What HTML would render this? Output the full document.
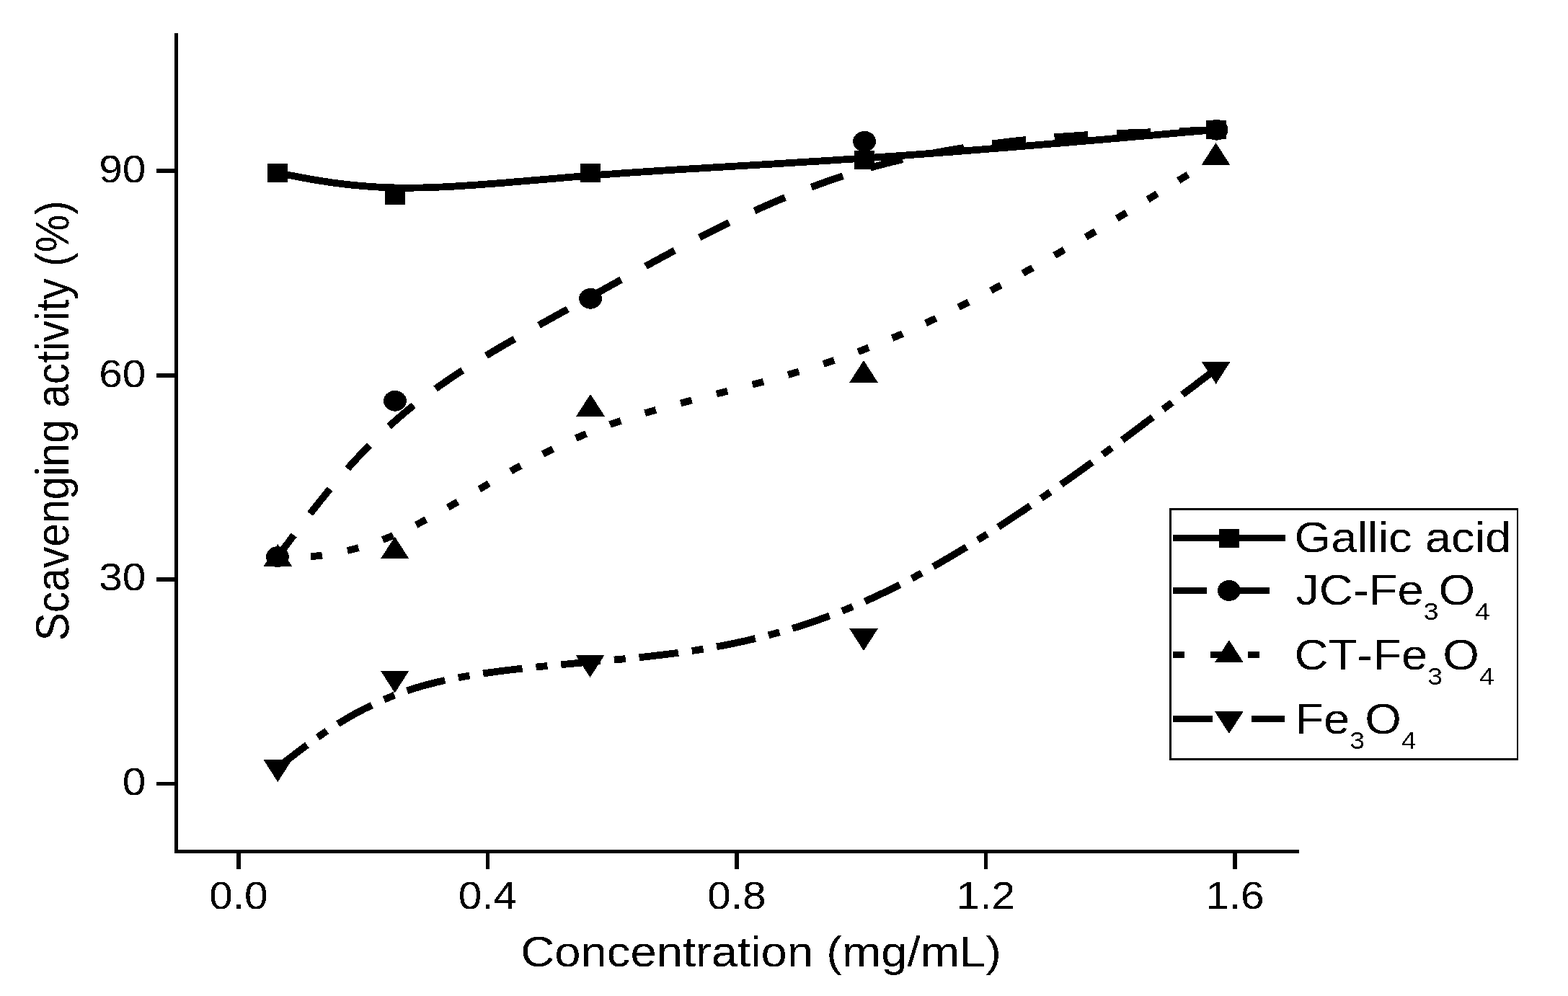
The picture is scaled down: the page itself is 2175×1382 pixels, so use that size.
<!DOCTYPE html>
<html lang="en"><head><meta charset="utf-8"><title>Scavenging activity vs concentration</title>
<style>html,body{margin:0;padding:0;background:#fff;}body{width:2175px;height:1382px;overflow:hidden;}svg{display:block;}text{font-family:'Liberation Sans', sans-serif;fill:#000;font-kerning:none;}</style></head><body>
<svg width="2175" height="1382" viewBox="0 0 2175 1382" role="img" aria-label="Scavenging activity versus concentration">
<defs><filter id="bin" x="0" y="0" width="2175" height="1382" filterUnits="userSpaceOnUse" color-interpolation-filters="sRGB"><feComponentTransfer><feFuncA type="discrete" tableValues="0 1"/></feComponentTransfer></filter></defs>
<rect width="2175" height="1382" fill="#fff"/>
<g fill="#000" shape-rendering="crispEdges">
<rect x="242" y="46" width="5" height="1138"/>
<rect x="242" y="1179" width="1560" height="5"/>
<rect x="217" y="234.0" width="27" height="6.0"/>
<rect x="217" y="518.0" width="27" height="5.5"/>
<rect x="217" y="801.0" width="27" height="5.5"/>
<rect x="217" y="1085.0" width="27" height="5.0"/>
<rect x="328.1" y="1182" width="5.8" height="24"/>
<rect x="673.6" y="1182" width="5.8" height="24"/>
<rect x="1019.0" y="1182" width="5.8" height="24"/>
<rect x="1364.5" y="1182" width="5.8" height="24"/>
<rect x="1710.0" y="1182" width="5.8" height="24"/>
</g>
<g filter="url(#bin)">
<text transform="translate(202.4 252.7) scale(1.074 1)" font-size="54.5" text-anchor="end">90</text>
<text transform="translate(202.4 536.5) scale(1.074 1)" font-size="54.5" text-anchor="end">60</text>
<text transform="translate(202.4 819.4) scale(1.074 1)" font-size="54.5" text-anchor="end">30</text>
<text transform="translate(202.4 1103.2) scale(1.074 1)" font-size="54.5" text-anchor="end">0</text>
<text transform="translate(330.9 1260.9) scale(1.074 1)" font-size="54.5" text-anchor="middle">0.0</text>
<text transform="translate(676.4 1260.9) scale(1.074 1)" font-size="54.5" text-anchor="middle">0.4</text>
<text transform="translate(1021.8 1260.9) scale(1.074 1)" font-size="54.5" text-anchor="middle">0.8</text>
<text transform="translate(1367.3 1260.9) scale(1.074 1)" font-size="54.5" text-anchor="middle">1.2</text>
<text transform="translate(1712.8 1260.9) scale(1.074 1)" font-size="54.5" text-anchor="middle">1.6</text>
<text transform="translate(722.2 1341.2) scale(1.109 1)" font-size="58.8" text-anchor="start">Concentration (mg/mL)</text>
<text transform="translate(95.3 889.4) rotate(-90) scale(1 1.109)" font-size="58.8">Scavenging activity (%)</text>
</g>
<g fill="none" stroke="#000" stroke-width="9.8" stroke-linecap="butt" stroke-linejoin="round" shape-rendering="crispEdges">
<path d="M385.0,240.0 L385.0,240.0 L385.0,240.0 L385.0,240.0 L385.1,240.0 L385.2,240.0 L385.4,240.1 L385.6,240.1 L385.9,240.2 L386.3,240.2 L386.7,240.3 L387.3,240.4 L388.0,240.6 L388.8,240.7 L389.8,240.9 L390.9,241.1 L392.1,241.4 L393.5,241.6 L395.1,241.9 L396.9,242.3 L398.9,242.6 L401.1,243.1 L403.5,243.5 L406.2,244.0 L409.0,244.6 L412.2,245.2 L415.6,245.8 L419.2,246.5 L423.1,247.2 L427.3,248.0 L431.7,248.8 L436.3,249.6 L441.2,250.4 L446.3,251.2 L451.6,252.0 L457.2,252.9 L463.0,253.7 L469.1,254.5 L475.3,255.2 L481.8,256.0 L488.4,256.7 L495.3,257.4 L502.4,258.0 L509.7,258.6 L517.2,259.1 L524.9,259.6 L532.7,259.9 L540.8,260.2 L549.0,260.5 L557.4,260.6 L566.0,260.7 L574.8,260.6 L583.7,260.5 L592.9,260.2 L602.2,259.9 L611.6,259.5 L621.3,259.1 L631.1,258.5 L641.0,257.9 L651.2,257.2 L661.5,256.5 L672.0,255.7 L682.7,254.9 L693.6,254.1 L704.6,253.2 L715.8,252.2 L727.2,251.3 L738.7,250.3 L750.4,249.3 L762.3,248.3 L774.4,247.3 L786.6,246.2 L799.0,245.2 L811.6,244.2 L824.4,243.2 L837.3,242.2 L850.4,241.3 L863.7,240.3 L877.1,239.4 L890.8,238.5 L904.6,237.6 L918.5,236.7 L932.7,235.8 L947.0,234.9 L961.5,234.1 L976.2,233.2 L991.0,232.3 L1006.0,231.4 L1021.2,230.5 L1036.6,229.6 L1052.1,228.7 L1067.8,227.8 L1083.7,226.8 L1099.8,225.8 L1116.0,224.8 L1132.4,223.8 L1149.0,222.8 L1165.7,221.7 L1182.7,220.6 L1199.8,219.4 L1217.0,218.2 L1234.5,217.0 L1252.0,215.8 L1269.7,214.5 L1287.4,213.2 L1305.2,211.8 L1322.9,210.5 L1340.6,209.1 L1358.2,207.7 L1375.6,206.3 L1392.9,205.0 L1410.0,203.6 L1426.8,202.2 L1443.3,200.8 L1459.5,199.5 L1475.4,198.2 L1490.8,196.9 L1505.9,195.6 L1520.4,194.4 L1534.4,193.2 L1547.9,192.0 L1560.8,190.9 L1573.0,189.8 L1584.6,188.8 L1595.5,187.9 L1605.7,187.0 L1615.0,186.2 L1623.7,185.4 L1631.6,184.7 L1638.8,184.1 L1645.4,183.5 L1651.3,183.0 L1656.6,182.5 L1661.4,182.1 L1665.7,181.8 L1669.4,181.4 L1672.7,181.1 L1675.6,180.9 L1678.0,180.7 L1680.1,180.5 L1681.8,180.4 L1683.2,180.2 L1684.3,180.1 L1685.2,180.1 L1685.9,180.0 L1686.3,180.0 L1686.7,179.9 L1686.9,179.9 L1687.0,179.9 L1687.0,179.9 L1687.0,179.9 L1687.0,179.9"/>
<path d="M384.9,772.7 L387.0,770.0 L389.0,767.2 L391.1,764.5 L393.2,761.7 L395.2,759.0 L397.3,756.2 L399.4,753.5 L401.5,750.7 L403.5,748.0 L405.6,745.2 L407.7,742.5 M430.2,712.9 L432.4,710.0 L434.7,707.1 L436.9,704.2 L439.2,701.3 L441.5,698.5 L443.8,695.6 L446.0,692.7 L448.4,689.9 L450.7,687.0 L453.0,684.2 L455.3,681.4 L457.7,678.5 M482.1,650.2 L484.6,647.5 L487.0,644.7 L489.5,642.0 L492.0,639.3 L494.5,636.6 L497.1,633.9 L499.6,631.2 L502.1,628.5 L504.7,625.8 L507.3,623.2 L509.9,620.5 L512.5,617.9 M539.7,591.7 L542.4,589.1 L545.2,586.6 L548.0,584.2 L550.8,581.7 L553.6,579.2 L556.4,576.8 L559.2,574.4 L562.1,571.9 L565.0,569.5 L567.9,567.2 L570.8,564.8 L573.7,562.4 M604.2,539.4 L607.3,537.2 L610.3,535.0 L613.4,532.9 L616.5,530.7 L619.7,528.6 L622.8,526.4 L625.9,524.3 L629.1,522.2 L632.2,520.1 L635.4,518.0 L638.5,515.9 L641.7,513.9 M674.4,493.4 L677.7,491.5 L680.9,489.5 L684.2,487.6 L687.5,485.6 L690.7,483.7 L694.0,481.7 L697.3,479.8 L700.6,477.9 L703.9,476.0 L707.2,474.1 L710.5,472.2 L713.8,470.3 M747.5,451.2 L750.8,449.3 L754.2,447.5 L757.5,445.6 L760.8,443.8 L764.2,441.9 L767.5,440.1 L770.8,438.2 L774.2,436.4 L777.5,434.5 L780.9,432.7 L784.2,430.9 L787.5,429.0 M821.5,410.3 L824.9,408.5 L828.2,406.6 L831.5,404.8 L834.9,402.9 L838.2,401.1 L841.6,399.3 L844.9,397.4 L848.2,395.6 L851.6,393.7 L854.9,391.9 L858.2,390.0 L861.6,388.2 M895.5,369.4 L898.9,367.6 L902.2,365.8 L905.6,363.9 L908.9,362.1 L912.3,360.3 L915.6,358.4 L919.0,356.6 L922.3,354.8 L925.7,353.0 L929.1,351.2 L932.4,349.4 L935.8,347.6 M970.2,329.6 L973.6,327.8 L977.0,326.1 L980.4,324.3 L983.9,322.6 L987.3,320.9 L990.7,319.2 L994.1,317.5 L997.6,315.8 L1001.0,314.1 L1004.4,312.4 L1007.9,310.7 L1011.3,309.0 M1046.6,292.5 L1050.1,290.9 L1053.6,289.3 L1057.2,287.7 L1060.7,286.2 L1064.2,284.6 L1067.7,283.1 L1071.2,281.6 L1074.8,280.0 L1078.3,278.5 L1081.9,277.0 L1085.4,275.5 L1089.0,274.1 M1125.4,259.7 L1129.0,258.3 L1132.7,257.0 L1136.3,255.6 L1139.9,254.3 L1143.6,253.0 L1147.2,251.7 L1150.9,250.5 L1154.5,249.2 L1158.2,247.9 L1161.9,246.7 L1165.5,245.5 L1169.2,244.3 M1206.9,232.8 L1210.7,231.7 L1214.4,230.7 L1218.2,229.7 L1221.9,228.7 L1225.7,227.7 L1229.4,226.7 L1233.2,225.8 L1237.0,224.8 L1240.8,223.9 L1244.6,223.0 L1248.3,222.1 L1252.1,221.2 M1290.9,213.0 L1294.7,212.3 L1298.5,211.6 L1302.4,210.9 L1306.2,210.2 L1310.1,209.5 L1313.9,208.8 L1317.8,208.2 L1321.6,207.5 L1325.5,206.9 L1329.3,206.2 L1333.2,205.6 L1337.0,205.0 M1376.3,199.4 L1380.2,198.9 L1384.1,198.4 L1388.0,197.9 L1391.9,197.5 L1395.7,197.0 L1399.6,196.5 L1403.5,196.1 L1407.4,195.7 L1411.3,195.2 L1415.2,194.8 L1419.1,194.4 L1423.0,194.0 M1462.5,190.4 L1466.4,190.1 L1470.4,189.8 L1474.3,189.5 L1478.2,189.2 L1482.1,188.9 L1486.0,188.6 L1489.9,188.4 L1493.8,188.1 L1497.7,187.8 L1501.6,187.6 L1505.5,187.3 L1509.4,187.1 M1549.1,185.0 L1553.0,184.9 L1557.0,184.7 L1560.9,184.5 L1564.8,184.4 L1568.7,184.2 L1572.6,184.1 L1576.5,183.9 L1580.4,183.8 L1584.4,183.6 L1588.3,183.5 L1592.2,183.4 L1596.1,183.2 M1635.9,181.9 L1639.8,181.8 L1643.7,181.6 L1647.6,181.5 L1651.5,181.4 L1655.4,181.3 L1659.4,181.1 L1663.3,181.0 L1667.2,180.9 L1671.1,180.7 L1675.0,180.6 L1678.9,180.5 L1682.8,180.4"/>
<path d="M385.4,775.5 L388.7,775.3 L392.0,775.1 L395.4,774.9 M431.0,772.4 L434.2,772.1 L437.4,771.7 L440.5,771.3 L443.7,771.0 L446.9,770.5 M481.9,764.0 L485.0,763.3 L488.1,762.5 L491.1,761.7 L494.2,760.9 L497.3,760.0 M530.8,748.9 L533.7,747.8 L536.7,746.7 L539.6,745.5 L542.5,744.3 L545.4,743.1 M577.2,728.3 L580.0,726.8 L582.7,725.4 L585.5,724.0 L588.3,722.5 L591.0,721.0 M621.4,704.1 L624.1,702.5 L626.8,700.9 L629.5,699.4 L632.2,697.8 L634.9,696.3 M664.9,678.8 L667.6,677.2 L670.3,675.6 L672.9,674.1 L675.6,672.5 L678.3,670.9 M708.6,653.7 L711.3,652.2 L714.0,650.7 L716.7,649.2 L719.5,647.7 L722.2,646.2 M753.1,629.9 L755.8,628.5 L758.6,627.1 L761.4,625.7 L764.2,624.3 L767.0,622.9 M798.8,608.1 L801.7,606.8 L804.6,605.6 L807.4,604.3 L810.3,603.1 L813.2,601.9 M846.1,589.1 L849.0,588.0 L852.0,587.0 L855.0,586.0 L858.0,584.9 L861.0,583.9 M894.7,573.2 L897.8,572.3 L900.8,571.5 L903.8,570.6 L906.9,569.7 L909.9,568.8 M944.2,559.5 L947.2,558.7 L950.3,557.9 L953.4,557.0 L956.4,556.2 L959.5,555.4 M993.9,546.6 L997.0,545.8 L1000.1,545.1 L1003.1,544.3 L1006.2,543.5 L1009.3,542.7 M1043.6,533.7 L1046.7,532.9 L1049.8,532.1 L1052.8,531.3 L1055.9,530.5 L1059.0,529.6 M1093.1,520.0 L1096.2,519.1 L1099.2,518.2 L1102.2,517.3 L1105.3,516.4 L1108.3,515.5 M1142.1,504.9 L1145.1,503.9 L1148.1,502.9 L1151.1,501.9 L1154.1,500.9 L1157.1,499.9 M1190.3,488.0 L1193.3,486.9 L1196.2,485.8 L1199.2,484.7 L1202.1,483.5 L1205.0,482.4 M1237.6,469.1 L1240.5,467.9 L1243.4,466.7 L1246.3,465.4 L1249.2,464.2 L1252.0,462.9 M1284.0,448.4 L1286.8,447.1 L1289.7,445.8 L1292.5,444.4 L1295.3,443.1 L1298.2,441.7 M1329.6,426.3 L1332.4,424.9 L1335.2,423.5 L1337.9,422.1 L1340.7,420.7 L1343.5,419.3 M1374.5,403.2 L1377.2,401.7 L1380.0,400.2 L1382.8,398.8 L1385.5,397.3 L1388.3,395.8 M1418.8,379.1 L1421.6,377.6 L1424.3,376.1 L1427.0,374.6 L1429.7,373.1 L1432.5,371.5 M1462.7,354.4 L1465.4,352.8 L1468.1,351.3 L1470.8,349.7 L1473.5,348.1 L1476.2,346.6 M1506.1,329.0 L1508.8,327.4 L1511.5,325.8 L1514.2,324.2 L1516.8,322.6 L1519.5,321.1 M1549.2,303.1 L1551.9,301.5 L1554.5,299.9 L1557.2,298.3 L1559.8,296.7 L1562.5,295.1 M1592.0,276.9 L1594.7,275.3 L1597.3,273.6 L1599.9,272.0 L1602.6,270.4 L1605.2,268.8 M1634.7,250.5 L1637.3,248.9 L1640.0,247.3 L1642.6,245.6 L1645.3,244.0 L1647.9,242.4 M1677.4,224.1 L1680.4,222.3 L1683.5,220.4 L1686.5,218.5"/>
<path d="M385.3,1064.5 L388.2,1062.3 L391.1,1060.1 L394.0,1057.9 L396.9,1055.7 L399.8,1053.5 L402.7,1051.3 L405.6,1049.1 L408.5,1046.9 L411.3,1044.7 L414.2,1042.5 L417.1,1040.3 L420.0,1038.1 L422.9,1035.9 L425.9,1033.7 M440.7,1023.0 L443.2,1021.3 L445.7,1019.5 L448.3,1017.7 L450.9,1016.0 L453.4,1014.3 M468.8,1004.4 L472.0,1002.4 L475.3,1000.4 L478.6,998.4 L481.9,996.5 L485.2,994.6 L488.5,992.7 L491.8,990.8 L495.2,989.0 L498.6,987.2 L501.9,985.4 L505.3,983.6 L508.8,981.9 L512.2,980.2 L515.7,978.5 M532.6,970.7 L535.5,969.5 L538.4,968.3 L541.3,967.1 L544.2,965.9 L547.2,964.7 M564.7,958.4 L568.4,957.1 L572.1,955.9 L575.8,954.8 L579.5,953.7 L583.2,952.6 L587.0,951.5 L590.8,950.5 L594.5,949.5 L598.3,948.5 L602.1,947.6 L605.9,946.6 L609.7,945.7 L613.5,944.9 L617.3,944.0 M635.8,940.3 L639.0,939.7 L642.1,939.1 L645.2,938.6 L648.4,938.0 L651.5,937.5 M670.1,934.5 L674.0,933.9 L677.9,933.4 L681.8,932.8 L685.7,932.3 L689.6,931.8 L693.4,931.3 L697.3,930.8 L701.2,930.3 L705.1,929.8 L709.0,929.4 L712.9,928.9 L716.8,928.5 L720.7,928.0 L724.6,927.6 M743.5,925.6 L746.7,925.2 L749.8,924.9 L753.0,924.6 L756.2,924.3 L759.4,924.0 M778.2,922.2 L782.1,921.8 L786.0,921.5 L789.9,921.1 L793.8,920.8 L797.7,920.4 L801.6,920.1 L805.5,919.7 L809.4,919.4 L813.4,919.0 L817.3,918.7 L821.2,918.3 L825.1,918.0 L829.0,917.6 L832.9,917.3 M851.8,915.5 L855.0,915.2 L858.2,915.0 L861.4,914.7 L864.5,914.4 L867.7,914.0 M886.5,912.2 L890.4,911.8 L894.3,911.4 L898.2,911.0 L902.1,910.5 L906.0,910.1 L909.9,909.6 L913.8,909.2 L917.7,908.7 L921.6,908.3 L925.5,907.8 L929.4,907.3 L933.3,906.8 L937.1,906.3 L941.0,905.7 M959.8,903.1 L963.0,902.6 L966.1,902.1 L969.3,901.6 L972.4,901.1 L975.6,900.6 M994.1,897.3 L998.0,896.6 L1001.8,895.9 L1005.7,895.2 L1009.5,894.4 L1013.3,893.6 L1017.2,892.8 L1021.0,892.0 L1024.8,891.2 L1028.6,890.4 L1032.4,889.6 L1036.3,888.7 L1040.1,887.8 L1043.9,886.9 L1047.7,886.0 M1066.0,881.4 L1069.0,880.6 L1072.1,879.8 L1075.2,878.9 L1078.2,878.1 L1081.3,877.2 M1099.2,872.0 L1103.0,870.8 L1106.7,869.7 L1110.4,868.5 L1114.1,867.3 L1117.8,866.1 L1121.5,864.9 L1125.1,863.6 L1128.8,862.4 L1132.5,861.1 L1136.2,859.8 L1139.8,858.5 L1143.5,857.2 L1147.1,855.9 L1150.7,854.5 M1168.2,847.8 L1171.1,846.6 L1174.0,845.4 L1176.9,844.2 L1179.9,843.0 L1182.8,841.8 M1199.8,834.5 L1203.3,832.9 L1206.8,831.3 L1210.3,829.7 L1213.8,828.1 L1217.3,826.4 L1220.8,824.8 L1224.3,823.1 L1227.7,821.5 L1231.2,819.8 L1234.6,818.1 L1238.1,816.4 L1241.5,814.6 L1244.9,812.9 L1248.3,811.2 M1264.8,802.6 L1267.5,801.1 L1270.3,799.6 L1273.0,798.1 L1275.8,796.6 L1278.5,795.1 M1294.6,786.2 L1297.9,784.3 L1301.2,782.4 L1304.5,780.5 L1307.8,778.5 L1311.1,776.6 L1314.4,774.7 L1317.7,772.8 L1321.0,770.8 L1324.3,768.9 L1327.5,766.9 L1330.8,764.9 L1334.1,763.0 L1337.3,761.0 L1340.6,759.0 M1356.3,749.3 L1358.9,747.7 L1361.5,746.0 L1364.1,744.4 L1366.8,742.7 L1369.4,741.1 M1384.8,731.2 L1388.0,729.1 L1391.2,727.1 L1394.3,725.0 L1397.5,722.9 L1400.7,720.8 L1403.9,718.7 L1407.0,716.6 L1410.2,714.5 L1413.3,712.4 L1416.5,710.3 L1419.7,708.2 L1422.8,706.1 L1425.9,703.9 L1429.1,701.8 M1444.2,691.5 L1446.8,689.7 L1449.3,688.0 L1451.9,686.2 L1454.4,684.4 L1456.9,682.7 M1471.9,672.2 L1474.9,670.0 L1478.0,667.9 L1481.1,665.7 L1484.2,663.5 L1487.3,661.3 L1490.4,659.1 L1493.4,656.9 L1496.5,654.7 L1499.6,652.5 L1502.7,650.3 L1505.7,648.0 L1508.8,645.8 L1511.9,643.6 L1514.9,641.4 M1529.7,630.6 L1532.2,628.8 L1534.6,626.9 L1537.1,625.1 L1539.6,623.3 L1542.1,621.4 M1556.6,610.6 L1559.7,608.4 L1562.7,606.1 L1565.7,603.8 L1568.7,601.6 L1571.8,599.3 L1574.8,597.0 L1577.8,594.8 L1580.8,592.5 L1583.8,590.2 L1586.8,587.9 L1589.8,585.7 L1592.8,583.4 L1595.9,581.1 L1598.9,578.8 M1613.4,567.8 L1615.9,566.0 L1618.3,564.1 L1620.8,562.2 L1623.2,560.4 L1625.7,558.5 M1640.1,547.6 L1643.1,545.3 L1646.2,543.0 L1649.2,540.7 L1652.2,538.5 L1655.2,536.2 L1658.2,533.9 L1661.2,531.6 L1664.2,529.3 L1667.2,527.1 L1670.2,524.8 L1673.2,522.5 L1676.2,520.2 L1679.2,517.9 L1682.2,515.7"/>
</g>
<g fill="#000" shape-rendering="crispEdges">
<rect x="371.0" y="227.0" width="28.0" height="26.0"/>
<rect x="534.0" y="258.0" width="28.0" height="26.0"/>
<rect x="805.2" y="227.0" width="28.0" height="26.0"/>
<rect x="1185.0" y="209.4" width="28.0" height="26.0"/>
<rect x="1673.0" y="166.9" width="28.0" height="26.0"/>
<ellipse cx="384.9" cy="772.7" rx="15.9" ry="14.4"/>
<ellipse cx="548.0" cy="556.3" rx="15.9" ry="14.4"/>
<ellipse cx="819.1" cy="414.3" rx="15.9" ry="14.4"/>
<ellipse cx="1199.1" cy="196.3" rx="15.9" ry="14.4"/>
<ellipse cx="1687.6" cy="180.2" rx="15.9" ry="14.4"/>
<polygon points="385.4,755.0 405.2,785.8 365.6,785.8"/>
<polygon points="547.7,744.6 567.5,775.4 527.9,775.4"/>
<polygon points="819.0,546.8 838.8,577.6 799.2,577.6"/>
<polygon points="1198.0,500.0 1217.8,530.8 1178.2,530.8"/>
<polygon points="1686.5,198.0 1706.3,228.8 1666.7,228.8"/>
<polygon points="385.3,1085.0 405.1,1054.2 365.5,1054.2"/>
<polygon points="547.7,961.5 567.5,930.7 527.9,930.7"/>
<polygon points="818.5,940.0 838.3,909.2 798.7,909.2"/>
<polygon points="1198.0,903.0 1217.8,872.2 1178.2,872.2"/>
<polygon points="1686.7,532.8 1706.5,502.0 1666.9,502.0"/>
</g>
<rect x="1623.4" y="706.3" width="481.6" height="347.4" fill="#fff" stroke="#000" stroke-width="2.7" shape-rendering="crispEdges"/>
<g fill="#000" shape-rendering="crispEdges">
<rect x="1627.0" y="742.0" width="156.0" height="9.0"/>
<rect x="1627.0" y="815.0" width="47.0" height="9.0"/>
<rect x="1714.0" y="815.0" width="47.0" height="9.0"/>
<rect x="1627.0" y="904.0" width="16.0" height="9.0"/>
<rect x="1679.0" y="904.0" width="16.0" height="9.0"/>
<rect x="1731.0" y="904.0" width="16.0" height="9.0"/>
<rect x="1627.0" y="993.0" width="55.0" height="9.0"/>
<rect x="1701.0" y="993.0" width="12.0" height="9.0"/>
<rect x="1736.0" y="993.0" width="46.0" height="9.0"/>
</g>
<g fill="#000" shape-rendering="crispEdges">
<rect x="1691.0" y="734.0" width="28.0" height="26.0"/>
<ellipse cx="1704.8" cy="819.5" rx="15.9" ry="14.4"/>
<polygon points="1704.9,888.1 1724.7,918.9 1685.1,918.9"/>
<polygon points="1704.9,1018.0 1724.7,987.2 1685.1,987.2"/>
</g>
<g filter="url(#bin)">
<text transform="translate(1795.6 766.3) scale(1.109 1)" font-size="58.8" text-anchor="start">Gallic acid</text>
<text transform="translate(1797.2 838.8) scale(1.109 1)" font-size="58.8" text-anchor="start">JC-Fe<tspan font-size="33.8" dy="20.9">3</tspan><tspan dy="-20.9">O</tspan><tspan font-size="33.8" dy="20.9">4</tspan></text>
<text transform="translate(1795.6 929.3) scale(1.109 1)" font-size="58.8" text-anchor="start">CT-Fe<tspan font-size="33.8" dy="20.9">3</tspan><tspan dy="-20.9">O</tspan><tspan font-size="33.8" dy="20.9">4</tspan></text>
<text transform="translate(1796.2 1018.3) scale(1.109 1)" font-size="58.8" text-anchor="start">Fe<tspan font-size="33.8" dy="20.9">3</tspan><tspan dy="-20.9">O</tspan><tspan font-size="33.8" dy="20.9">4</tspan></text>
</g>
</svg></body></html>
